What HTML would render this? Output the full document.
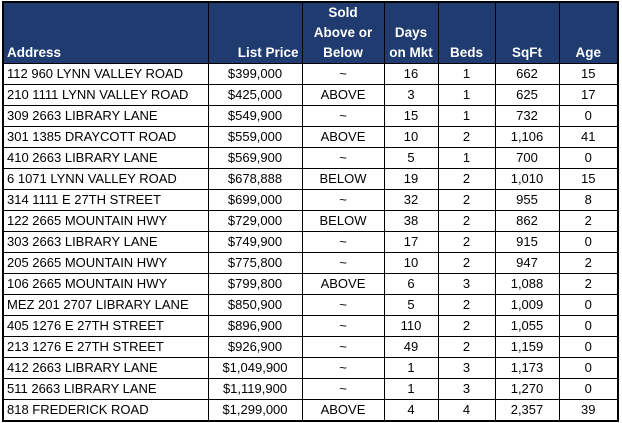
<!DOCTYPE html>
<html><head><style>
html,body{margin:0;padding:0;background:#fff;width:622px;height:423px;overflow:hidden}
table{position:absolute;left:2px;top:1px;border-collapse:collapse;table-layout:fixed;border:2px solid #000;font-family:"Liberation Sans",Arial,sans-serif;font-size:13px;color:#000}
td,th{border:1px solid #000;padding:0 3px;height:20px;line-height:20px;text-align:center;white-space:nowrap;overflow:hidden}
th{background:#1f3b70;color:#fff;font-weight:bold;vertical-align:bottom;height:60px;line-height:20px;font-size:13.5px;padding-bottom:0}
td:first-child,th:first-child{text-align:left}
th.r{text-align:right}
</style></head><body>
<table>
<colgroup><col style="width:205px"><col style="width:94px"><col style="width:82px"><col style="width:54px"><col style="width:57px"><col style="width:64px"><col style="width:59px"></colgroup>
<tr><th>Address</th><th class="r">List Price</th><th>Sold<br>Above or<br>Below</th><th>Days<br>on Mkt</th><th>Beds</th><th>SqFt</th><th>Age</th></tr>
<tr><td>112 960 LYNN VALLEY ROAD</td><td>$399,000</td><td>~</td><td>16</td><td>1</td><td>662</td><td>15</td></tr>
<tr><td>210 1111 LYNN VALLEY ROAD</td><td>$425,000</td><td>ABOVE</td><td>3</td><td>1</td><td>625</td><td>17</td></tr>
<tr><td>309 2663 LIBRARY LANE</td><td>$549,900</td><td>~</td><td>15</td><td>1</td><td>732</td><td>0</td></tr>
<tr><td>301 1385 DRAYCOTT ROAD</td><td>$559,000</td><td>ABOVE</td><td>10</td><td>2</td><td>1,106</td><td>41</td></tr>
<tr><td>410 2663 LIBRARY LANE</td><td>$569,900</td><td>~</td><td>5</td><td>1</td><td>700</td><td>0</td></tr>
<tr><td>6 1071 LYNN VALLEY ROAD</td><td>$678,888</td><td>BELOW</td><td>19</td><td>2</td><td>1,010</td><td>15</td></tr>
<tr><td>314 1111 E 27TH STREET</td><td>$699,000</td><td>~</td><td>32</td><td>2</td><td>955</td><td>8</td></tr>
<tr><td>122 2665 MOUNTAIN HWY</td><td>$729,000</td><td>BELOW</td><td>38</td><td>2</td><td>862</td><td>2</td></tr>
<tr><td>303 2663 LIBRARY LANE</td><td>$749,900</td><td>~</td><td>17</td><td>2</td><td>915</td><td>0</td></tr>
<tr><td>205 2665 MOUNTAIN HWY</td><td>$775,800</td><td>~</td><td>10</td><td>2</td><td>947</td><td>2</td></tr>
<tr><td>106 2665 MOUNTAIN HWY</td><td>$799,800</td><td>ABOVE</td><td>6</td><td>3</td><td>1,088</td><td>2</td></tr>
<tr><td>MEZ 201 2707 LIBRARY LANE</td><td>$850,900</td><td>~</td><td>5</td><td>2</td><td>1,009</td><td>0</td></tr>
<tr><td>405 1276 E 27TH STREET</td><td>$896,900</td><td>~</td><td>110</td><td>2</td><td>1,055</td><td>0</td></tr>
<tr><td>213 1276 E 27TH STREET</td><td>$926,900</td><td>~</td><td>49</td><td>2</td><td>1,159</td><td>0</td></tr>
<tr><td>412 2663 LIBRARY LANE</td><td>$1,049,900</td><td>~</td><td>1</td><td>3</td><td>1,173</td><td>0</td></tr>
<tr><td>511 2663 LIBRARY LANE</td><td>$1,119,900</td><td>~</td><td>1</td><td>3</td><td>1,270</td><td>0</td></tr>
<tr><td>818 FREDERICK ROAD</td><td>$1,299,000</td><td>ABOVE</td><td>4</td><td>4</td><td>2,357</td><td>39</td></tr>
</table>
</body></html>
